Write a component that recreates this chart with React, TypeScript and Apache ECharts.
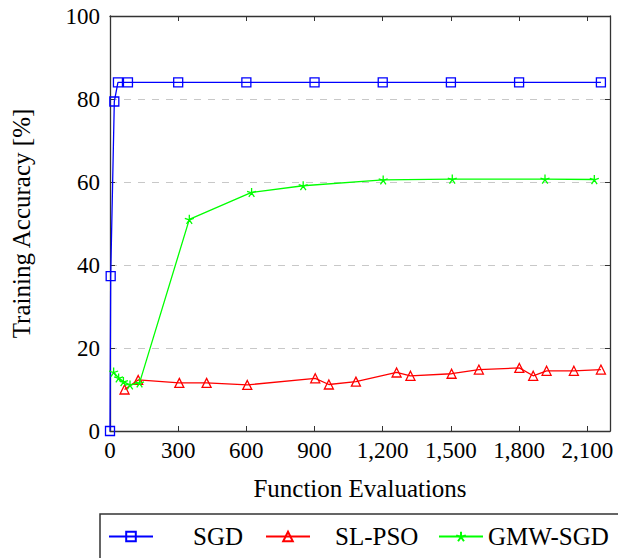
import React, { useEffect, useRef } from "react";
import * as echarts from "echarts";

const SERIES_NAMES = ["SGD", "SL-PSO", "GMW-SGD"];
const SERIES_COLORS = ["#0000ff", "#ff0000", "#00ff00"];

const sgdEvals = [0, 3, 19, 35, 79, 300, 600, 900, 1200, 1500, 1800, 2160];
const sgdAcc = [0, 37.3, 79.4, 84, 84, 84, 84, 84, 84, 84, 84, 84];

const slpsoEvals = [64, 124, 305, 425, 604, 903, 963, 1082, 1261, 1322, 1503, 1623, 1801, 1862, 1921, 2041, 2160];
const slpsoAcc = [10.0, 12.3, 11.6, 11.6, 11.1, 12.7, 11.2, 11.9, 14.1, 13.3, 13.8, 14.8, 15.2, 13.3, 14.5, 14.5, 14.8];

const gmwEvals = [16, 38, 59, 88, 130, 349, 623, 850, 1202, 1506, 1914, 2131];
const gmwAcc = [14.2, 12.8, 11.9, 11.1, 11.6, 51.0, 57.5, 59.1, 60.5, 60.7, 60.7, 60.6];

const xTickValues = [0, 300, 600, 900, 1200, 1500, 1800, 2100];
const yTickValues = [0, 20, 40, 60, 80, 100];

const FONT = "Liberation Serif";
const STAR =
  "path://M0,-10L0,0M9.51,-3.09L0,0M5.88,8.09L0,0M-5.88,8.09L0,0M-9.51,-3.09L0,0";

function pairs(xs: number[], ys: number[]) {
  return xs.map((x, i) => [x, ys[i]]);
}

export default function App() {
  const ref = useRef<HTMLDivElement>(null);
  useEffect(() => {
    if (!ref.current) return;
    const chart = echarts.init(ref.current, null, { renderer: "svg" });
    const axisLineStyle = { color: "#333", width: 1.3 };
    const xBase = {
      type: "value" as const,
      min: 0,
      max: 2200,
      interval: 300,
      axisLine: { show: true, onZero: false, lineStyle: axisLineStyle },
      axisTick: { show: true, inside: true, length: 5, lineStyle: { color: "#333", width: 1 } },
      splitLine: { show: false },
    };
    const yBase = {
      type: "value" as const,
      min: 0,
      max: 100,
      interval: 20,
      axisLine: { show: true, onZero: false, lineStyle: axisLineStyle },
      axisTick: { show: true, inside: true, length: 5, lineStyle: { color: "#333", width: 1 } },
    };
    const legendBase = {
      top: 524,
      itemWidth: 44,
      itemHeight: 12,
      padding: 0,
      selectedMode: false,
    };
    const legendLefts = [108, 265, 438];
    const legendPads = [35, 20, 0];
    chart.setOption({
      animation: false,
      backgroundColor: "#fff",
      grid: { left: 110, top: 16, right: 8, bottom: 127, containLabel: false },
      xAxis: [
        {
          ...xBase,
          position: "bottom",
          name: "Function Evaluations",
          nameLocation: "middle",
          nameGap: 45,
          nameTextStyle: { fontFamily: FONT, fontSize: 25, color: "#000" },
          axisLabel: {
            margin: 8,
            fontFamily: FONT,
            fontSize: 23,
            color: "#000",
            formatter: (v: number) =>
              xTickValues.includes(v) ? v.toLocaleString("en-US") : "",
          },
        },
        { ...xBase, position: "top", axisLabel: { show: false } },
      ],
      yAxis: [
        {
          ...yBase,
          position: "left",
          name: "Training Accuracy [%]",
          nameLocation: "middle",
          nameGap: 76,
          nameTextStyle: { fontFamily: FONT, fontSize: 25, color: "#000" },
          axisLabel: {
            margin: 10,
            fontFamily: FONT,
            fontSize: 23,
            color: "#000",
            formatter: (v: number) => (yTickValues.includes(v) ? String(v) : ""),
          },
          splitLine: {
            show: true,
            lineStyle: { color: "#c8c8c8", type: [7, 7], width: 1.2 },
          },
        },
        { ...yBase, position: "right", axisLabel: { show: false }, splitLine: { show: false } },
      ],
      legend: SERIES_NAMES.map((n, i) => ({
        ...legendBase,
        left: legendLefts[i],
        data: [n],
        textStyle: {
          fontFamily: FONT,
          fontSize: 25,
          color: "#000",
          padding: [0, 0, 0, legendPads[i]],
        },
      })),
      graphic: [
        {
          type: "rect",
          shape: { x: 100, y: 514, width: 540, height: 60 },
          style: { fill: "none", stroke: "#333", lineWidth: 1.5 },
        },
      ],
      series: [
        {
          name: SERIES_NAMES[0],
          type: "line",
          data: pairs(sgdEvals, sgdAcc),
          symbol: "rect",
          symbolSize: 9,
          color: SERIES_COLORS[0],
          lineStyle: { width: 1.3, color: SERIES_COLORS[0] },
          itemStyle: { color: "rgba(255,255,255,0)", borderColor: SERIES_COLORS[0], borderWidth: 1.3 },
          z: 2,
        },
        {
          name: SERIES_NAMES[1],
          type: "line",
          data: pairs(slpsoEvals, slpsoAcc),
          symbol: "triangle",
          symbolSize: 9,
          color: SERIES_COLORS[1],
          lineStyle: { width: 1.3, color: SERIES_COLORS[1] },
          itemStyle: { color: "rgba(255,255,255,0)", borderColor: SERIES_COLORS[1], borderWidth: 1.3 },
          z: 3,
        },
        {
          name: SERIES_NAMES[2],
          type: "line",
          data: pairs(gmwEvals, gmwAcc),
          symbol: STAR,
          symbolSize: 9,
          color: SERIES_COLORS[2],
          lineStyle: { width: 1.3, color: SERIES_COLORS[2] },
          itemStyle: { color: SERIES_COLORS[2], borderColor: SERIES_COLORS[2], borderWidth: 1.3 },
          z: 4,
        },
      ],
    });
    return () => chart.dispose();
  }, []);
  return (
    <div
      ref={ref}
      style={{ position: "absolute", left: 0, top: 0, width: 618, height: 558, background: "#fff" }}
    />
  );
}
